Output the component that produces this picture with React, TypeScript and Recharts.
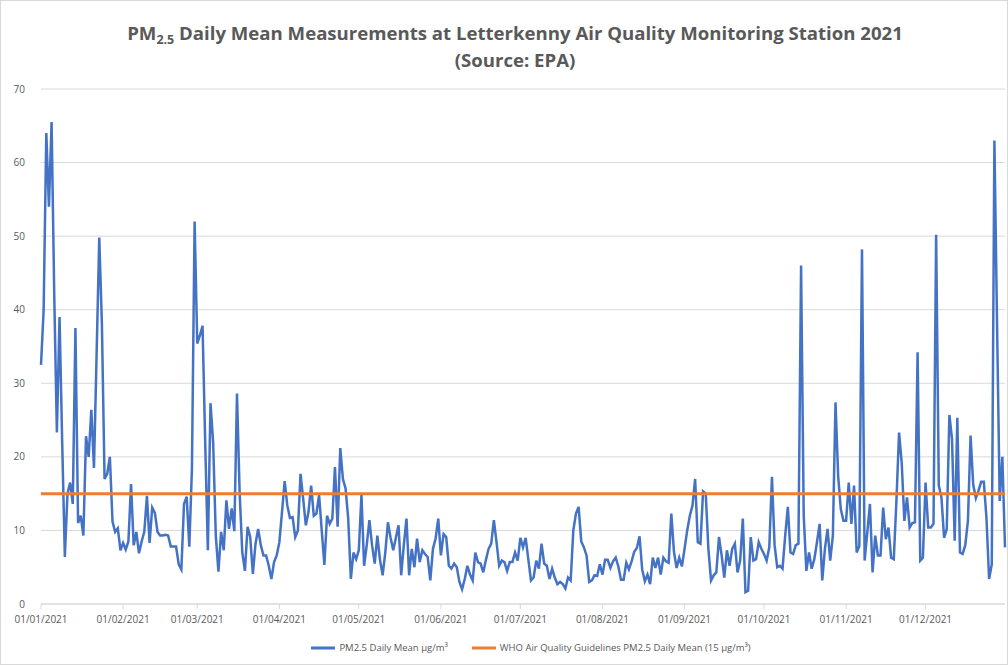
import React from "react";
import {
  LineChart,
  Line,
  XAxis,
  YAxis,
  CartesianGrid,
  Legend,
} from "recharts";

// PM2.5 daily means (µg/m³), one array per month of 2021
const jan = [32.5, 40, 64, 54, 65.5, 42, 23.3, 39, 22, 6.4, 15, 16.5, 13.6, 37.5, 11, 12, 9.3, 22.8, 20, 26.4, 18.5, 34, 49.8, 38, 17, 17.7, 20, 11.2, 9.8, 10.3, 7.3];
const feb = [8.3, 7.4, 8.5, 16.3, 8, 9.8, 6.9, 8.5, 9.8, 14.7, 8.3, 13.1, 12.4, 9.8, 9.3, 9.3, 9.4, 9.3, 7.8, 7.8, 7.8, 5.4, 4.7, 13.6, 14.6, 7.8, 18.5, 52];
const mar = [35.4, 36.5, 37.8, 22, 7.3, 27.3, 22, 9.3, 4.4, 9.8, 7.3, 14.1, 10.2, 13, 9.9, 28.6, 15.2, 7, 4.5, 10.5, 9.1, 4.1, 8.2, 10.2, 8, 6.6, 6.6, 5.2, 3.4, 5.7, 6.6];
const apr = [8.4, 12.5, 16.7, 13.4, 11.7, 11.8, 9.1, 10, 17.7, 14.3, 10.7, 12.5, 16.1, 12, 12.3, 14.8, 10, 5.3, 12, 10.9, 11.6, 18.6, 10.5, 21.2, 17, 15.7, 11.6, 3.4, 7, 6.1];
const may = [7.3, 14.8, 5.2, 8, 11.4, 8, 5.5, 9.3, 6, 3.9, 7, 11.1, 9, 7.3, 9, 10.7, 3.9, 8, 11.6, 3.9, 7.5, 5, 8.9, 5.7, 7.3, 6.8, 6.4, 3.2, 7.5, 8.9, 11.6];
const jun = [6.6, 9.5, 9.1, 5.2, 4.8, 5.5, 5, 3, 2, 3.4, 5.2, 4, 3.2, 7, 5.7, 5.5, 4.3, 6, 7.5, 8.2, 11.4, 8.4, 5.2, 5.9, 5.7, 4.5, 5.7, 5.7, 7, 5.9];
const jul = [9, 7.7, 9, 6.1, 3.2, 3.6, 5.9, 4.8, 8.2, 5.5, 5.2, 3.4, 4.8, 3.6, 2.7, 3, 2.7, 2.1, 3.6, 3.2, 10, 12.3, 13.2, 8.5, 7.7, 6.6, 3, 3.2, 3.9, 3.8, 5.4];
const aug = [4, 6, 6, 4.9, 5.8, 6.3, 5.1, 3.3, 3.3, 5.6, 4.7, 5.8, 7.1, 7.6, 9.2, 4.7, 3.1, 4, 2.7, 6.3, 4.9, 6.3, 4, 6.3, 5.8, 5.6, 12.3, 7.1, 4.9, 6.3, 5.1];
const sep = [7.5, 10, 12, 13.4, 17, 8.4, 8.2, 15.3, 15, 7.5, 3.2, 3.9, 4.3, 9.1, 6.6, 3.6, 7.3, 5.2, 7.5, 8.2, 4.3, 5.9, 11.6, 1.6, 1.8, 9.1, 5.9, 6.1, 8.4, 7.5];
const oct = [6.8, 5.9, 7.7, 17.3, 8, 5, 5.2, 4.8, 9.3, 13.2, 7, 6.8, 8, 8.2, 46, 12, 4.5, 7, 4.8, 6.1, 8.4, 10.9, 3.2, 7.5, 10.2, 5.9, 9.3, 27.4, 17.4, 12.9, 11.3];
const nov = [11.3, 16.5, 10.9, 16.1, 7, 7.9, 48.2, 5.9, 9.7, 13.6, 4.3, 9.3, 6.6, 6.6, 13.1, 8.8, 10.4, 6.3, 6.1, 14, 23.3, 19.2, 11.3, 14.5, 10.4, 11, 11.1, 34.2, 5.9, 6.3];
const dec = [16.5, 10.4, 10.4, 10.9, 50.2, 16.1, 14.5, 9, 10.2, 25.7, 22.4, 8.6, 25.3, 7, 6.8, 8, 11.3, 22.9, 16.2, 14.4, 15.4, 16.6, 16.6, 11.7, 3.4, 5.4, 63, 38, 14, 20, 7.7];

const months = [jan, feb, mar, apr, may, jun, jul, aug, sep, oct, nov, dec];
const whoGuideline = 15;
const yTicks = [0, 10, 20, 30, 40, 50, 60, 70];

const pad = (n: number) => String(n).padStart(2, "0");

const rows: { day: number; date: string; pm: number; who: number }[] = [];
const monthStarts: number[] = [];
months.forEach((vals, m) => {
  monthStarts.push(rows.length);
  vals.forEach((v, i) => {
    rows.push({
      day: rows.length,
      date: `${pad(i + 1)}/${pad(m + 1)}/2021`,
      pm: v,
      who: whoGuideline,
    });
  });
});

const grey = "#595959";

const Title = () => (
  <svg
    width={1008}
    height={80}
    style={{ position: "absolute", left: 0, top: 0, pointerEvents: "none" }}
  >
    <text
      x={514}
      y={39}
      textAnchor="middle"
      fill={grey}
      fontFamily="Open Sans, sans-serif"
      fontWeight="bold"
      fontSize={18.6}
    >
      PM
      <tspan fontSize={12.5} dy={4}>2.5</tspan>
      <tspan dy={-4}> Daily Mean Measurements at Letterkenny Air Quality Monitoring Station 2021</tspan>
    </text>
    <text
      x={514}
      y={66}
      textAnchor="middle"
      fill={grey}
      fontFamily="Open Sans, sans-serif"
      fontWeight="bold"
      fontSize={18.6}
    >
      (Source: EPA)
    </text>
  </svg>
);

const App: React.FC = () => (
  <div
    style={{
      position: "absolute",
      left: 0,
      top: 0,
      width: 1008,
      height: 665,
      background: "#fff",
      border: "1px solid #d9d9d9",
      boxSizing: "border-box",
      fontFamily: "Open Sans, sans-serif",
    }}
  >
    <LineChart
      width={1006}
      height={663}
      data={rows}
      margin={{ top: 88, right: 2, left: 0, bottom: 4 }}
    >
      <CartesianGrid stroke="#d9d9d9" horizontal vertical={false} />
      <XAxis
        dataKey="day"
        type="number"
        domain={[0, rows.length - 1]}
        ticks={monthStarts}
        interval={0}
        tickFormatter={(d: number) => rows[d]?.date ?? ""}
        height={32}
        stroke="#d9d9d9"
        tickSize={5}
        tickMargin={7}
        tick={{ fill: grey, fontSize: 10 }}
      />
      <YAxis
        domain={[0, 70]}
        ticks={yTicks}
        width={40}
        axisLine={false}
        tickLine={false}
        tickMargin={10}
        tick={{ fill: grey, fontSize: 10 }}
      />
      <Legend
        verticalAlign="bottom"
        height={24}
        iconType="plainline"
        iconSize={24}
        wrapperStyle={{ fontSize: 9.5, color: grey, paddingLeft: 40 }}
        formatter={(value: string) => (
          <span style={{ color: grey, marginRight: 14 }}>{value}</span>
        )}
      />
      <Line
        type="linear"
        dataKey="pm"
        name="PM2.5 Daily Mean µg/m³"
        stroke="#4472c4"
        strokeWidth={2.5}
        dot={false}
        isAnimationActive={false}
      />
      <Line
        type="linear"
        dataKey="who"
        name="WHO Air Quality Guidelines PM2.5 Daily Mean (15 µg/m³)"
        stroke="#ed7d31"
        strokeWidth={3}
        dot={false}
        isAnimationActive={false}
      />
    </LineChart>
    <Title />
  </div>
);

export default App;
